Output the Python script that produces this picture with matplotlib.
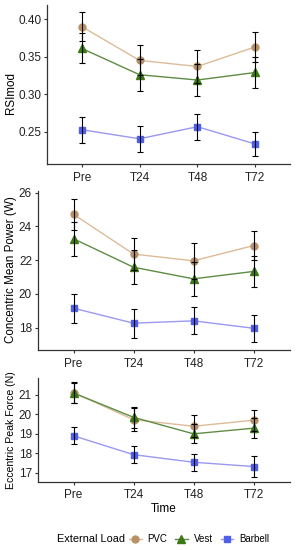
import matplotlib
matplotlib.use("Agg")
import matplotlib.pyplot as plt
from matplotlib.lines import Line2D
import numpy as np

plt.rcParams['font.family'] = ['Liberation Sans', 'DejaVu Sans']

times = ["Pre", "T24", "T48", "T72"]
loads = ["PVC", "Vest", "Barbell"]

# RSImod
rsi_pvc = [0.390, 0.345, 0.337, 0.363]
rsi_pvc_err = [0.019, 0.020, 0.022, 0.020]
rsi_vest = [0.361, 0.326, 0.319, 0.329]
rsi_vest_err = [0.020, 0.021, 0.021, 0.021]
rsi_bar = [0.253, 0.241, 0.257, 0.234]
rsi_bar_err = [0.017, 0.017, 0.017, 0.016]

# Concentric Mean Power (W)
cmp_pvc = [24.72, 22.36, 21.96, 22.86]
cmp_pvc_err = [0.93, 0.93, 1.08, 0.87]
cmp_vest = [23.27, 21.58, 20.89, 21.33]
cmp_vest_err = [1.00, 1.00, 1.00, 0.90]
cmp_bar = [19.15, 18.26, 18.40, 17.96]
cmp_bar_err = [0.87, 0.85, 0.80, 0.80]

# Eccentric Peak Force (N)
epf_pvc = [21.12, 19.73, 19.39, 19.70]
epf_pvc_err = [0.54, 0.59, 0.57, 0.55]
epf_vest = [21.10, 19.85, 19.00, 19.29]
epf_vest_err = [0.50, 0.55, 0.48, 0.50]
epf_bar = [18.90, 17.93, 17.54, 17.32]
epf_bar_err = [0.43, 0.43, 0.44, 0.52]

yticks1 = [0.25, 0.30, 0.35, 0.40]
yticks2 = [18, 20, 22, 24, 26]
yticks3 = [17, 18, 19, 20, 21]

line_cols = {"PVC": "#DDBB99", "Vest": "#5E8C45", "Barbell": "#9A98F0"}
mark_cols = {"PVC": "#B89266", "Vest": "#3B7A12", "Barbell": "#4F5FE6"}
markers = {"PVC": "o", "Vest": "^", "Barbell": "s"}
msizes = {"PVC": 5, "Vest": 5.5, "Barbell": 5}

W, H = 297, 550
fig = plt.figure(figsize=(W / 100, H / 100), dpi=100)

def px_axes(left, right, top, bottom):
    return fig.add_axes([left / W, 1 - bottom / H, (right - left) / W, (bottom - top) / H])

panels = [
    (px_axes(47, 290, 5, 164), [(rsi_pvc, rsi_pvc_err), (rsi_vest, rsi_vest_err), (rsi_bar, rsi_bar_err)],
     (0.2075, 0.4186), yticks1, "RSImod", "{:.2f}", 8.4, 93),
    (px_axes(37.5, 289.5, 190.5, 350), [(cmp_pvc, cmp_pvc_err), (cmp_vest, cmp_vest_err), (cmp_bar, cmp_bar_err)],
     (16.67, 26.13), yticks2, "Concentric Mean Power (W)", "{:d}", 8.4, 270),
    (px_axes(37.5, 289.5, 377.6, 481.7), [(epf_pvc, epf_pvc_err), (epf_vest, epf_vest_err), (epf_bar, epf_bar_err)],
     (16.54, 21.89), yticks3, "Eccentric Peak Force (N)", "{:d}", 7.6, 430),
]

x = np.arange(1, len(times) + 1)
for i, (ax, series, ylim, yt, ylabel, fmt, lfs, lcy) in enumerate(panels):
    for load, (vals, errs) in zip(loads, series):
        ax.plot(x, vals, color=line_cols[load], lw=1.0, zorder=2)
        ax.plot(x, vals, ls='none', marker=markers[load], ms=msizes[load],
                mfc=mark_cols[load], mec=mark_cols[load], zorder=3)
        ax.errorbar(x, vals, yerr=errs, fmt='none', ecolor='black', elinewidth=0.8,
                    capsize=2.2, capthick=0.8, zorder=4)
    ax.set_xlim(0.4, 4.6)
    ax.set_ylim(*ylim)
    ax.set_xticks(x)
    ax.set_xticklabels(times)
    ax.set_yticks(yt)
    ax.set_yticklabels([fmt.format(v) for v in yt])
    for s in ['top', 'right']:
        ax.spines[s].set_visible(False)
    for s in ['left', 'bottom']:
        ax.spines[s].set_color('#333333')
        ax.spines[s].set_linewidth(0.9)
    ax.tick_params(axis='both', length=2.5, width=0.8, color='#333333',
                   labelsize=8.5, labelcolor='#222222')
    ax.tick_params(axis='y', pad=1.5)
    ax.tick_params(axis='x', pad=3)
    fig.text(11 / W, 1 - lcy / H, ylabel, rotation=90, ha='center', va='center',
             fontsize=lfs, color='black')

panels[2][0].set_xlabel("Time", fontsize=8.5, labelpad=1.5)

handles = [Line2D([0], [0], color=line_cols[l], lw=1.0, marker=markers[l], ms=msizes[l],
                  mfc=mark_cols[l], mec=mark_cols[l]) for l in loads]
fig.text(57 / W, 1 - 539 / H, "External Load", ha='left', va='center', fontsize=7.9)
fig.legend(handles, loads, loc='center left', bbox_to_anchor=(129 / W, 1 - 539 / H),
           ncol=3, frameon=False, fontsize=7, handlelength=1.3, handletextpad=0.6,
           columnspacing=0.8, borderpad=0, borderaxespad=0)

fig.savefig("out.png", dpi=100)
